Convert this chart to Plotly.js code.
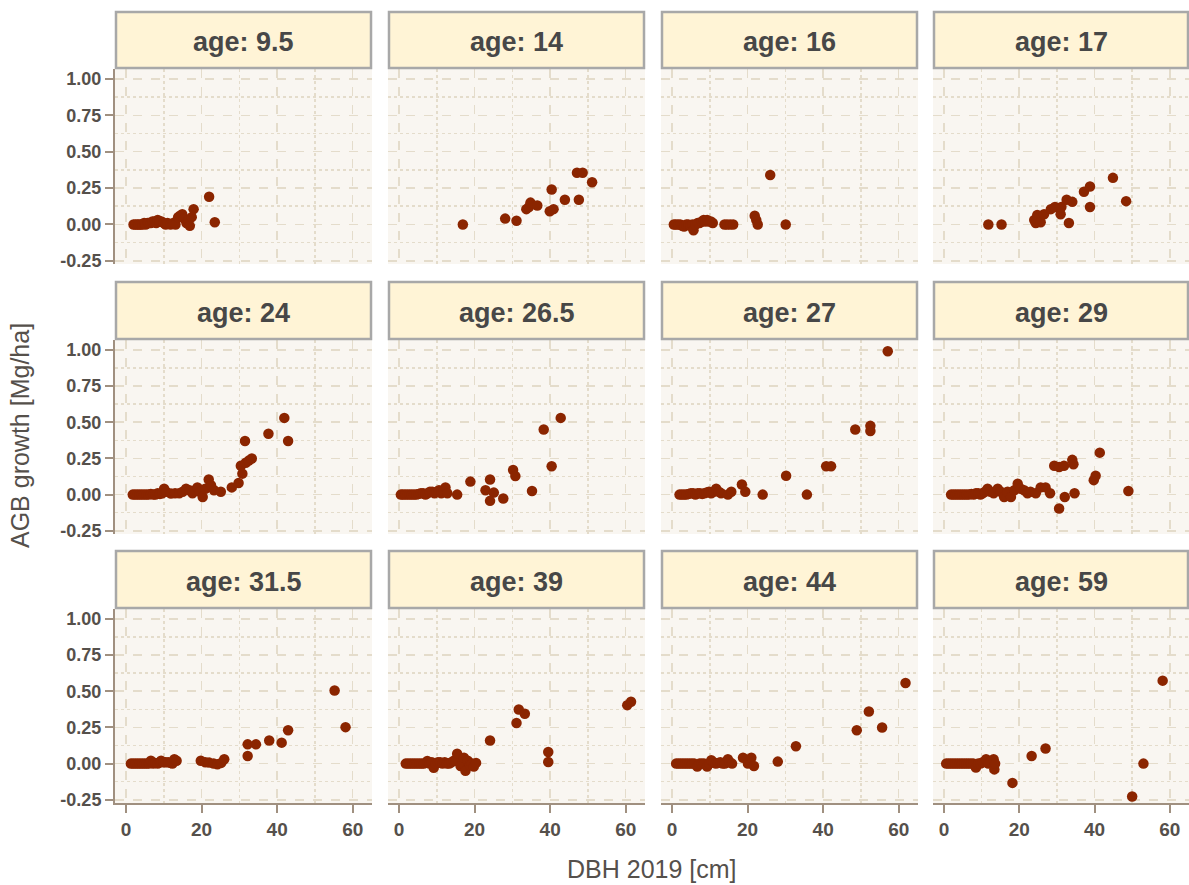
<!DOCTYPE html>
<html>
<head>
<meta charset="utf-8">
<script src="https://cdn.plot.ly/plotly-3.0.1.min.js"></script>
<style>html,body{margin:0;padding:0;background:#fff;}#chart{width:1189px;height:885px;}</style>
</head>
<body>
<div id="chart"></div>
<script>
// ---- data ----
const ages = ['9.5','14','16','17','24','26.5','27','29','31.5','39','44','59'];

const dbh_9_5 = [2.0,2.5,3.0,3.4,3.9,4.3,4.8,5.2,5.7,6.1,6.6,7.0,7.5,8.0,8.4,8.9,9.4,10.0,10.5,11.0,11.8,12.5,13.1,13.8,14.3,14.9,15.4,16.0,16.5,16.9,17.4,17.9,22.0,23.5];
const agb_9_5 = [0,0,0,0,0,0,0.01,0,0.01,0.01,0.01,0.02,0.02,0.01,0.03,0.02,0.02,0.01,0,0.01,0,0.01,0,0.05,0.06,0.07,0.04,0.01,0.03,-0.01,0.05,0.105,0.19,0.015];

const dbh_14 = [16.9,28.1,31.1,33.7,34.4,34.8,36.6,39.9,40.9,40.4,43.9,47.6,47.1,48.6,51.1];
const agb_14 = [0,0.04,0.025,0.105,0.12,0.15,0.13,0.09,0.105,0.24,0.17,0.17,0.355,0.355,0.29];

const dbh_16 = [0.5,1.0,1.6,2.2,2.7,3.2,3.8,4.3,4.9,5.4,5.7,6.2,6.8,7.3,7.9,8.4,8.8,9.3,9.8,10.3,10.8,13.9,14.6,15.4,16.2,21.9,22.3,22.7,26.0,30.1];
const agb_16 = [0,0,0,0,-0.01,-0.015,0,0,-0.01,0,-0.04,0,0.01,0.01,0.02,0.03,0.02,0.03,0.02,0.02,0.01,0,0,0,0,0.06,0.03,0,0.34,0];

const dbh_17 = [11.8,15.3,24.0,24.4,24.8,25.7,26.6,28.4,29.5,31.0,31.2,32.6,34.1,33.2,37.2,38.8,38.8,44.9,48.4];
const agb_17 = [0,0,0.03,0.01,0.065,0.015,0.07,0.105,0.12,0.07,0.12,0.17,0.155,0.01,0.225,0.26,0.12,0.32,0.16];

const dbh_24 = [1.8,2.4,3.0,3.6,4.2,4.8,5.4,6.0,6.6,7.2,7.8,8.4,9.0,9.6,10.1,10.6,11.9,13.0,14.1,15.0,15.9,16.8,17.6,18.3,18.9,19.6,20.3,21.0,21.9,22.5,23.3,25.1,28.0,29.8,30.4,30.8,31.5,31.7,32.5,33.3,37.7,41.9,42.9];
const agb_24 = [0,0,0,0,0,0,0,0,0.005,0,0,0.01,0.005,0.01,0.04,0.02,0.007,0.01,0.01,0.02,0.04,0.03,0.01,0.03,0.05,0.02,-0.016,0.04,0.105,0.065,0.03,0.02,0.05,0.08,0.2,0.145,0.37,0.22,0.235,0.25,0.42,0.53,0.37];

const dbh_26_5 = [0.5,1.0,1.6,2.2,2.8,3.4,4.0,4.6,5.2,5.8,6.4,7.0,7.6,8.2,8.8,9.4,10.0,10.6,11.2,11.8,12.3,12.8,15.4,18.9,22.9,24.1,25.1,24.1,27.6,30.2,30.8,35.2,38.3,40.4,42.8];
const agb_26_5 = [0,0,0,0,0,0,0,0,0.005,0.01,0.01,0,0.01,0.02,0.02,0.01,0.02,0.03,0.01,0.02,0.05,0.01,0,0.09,0.03,0.105,0.014,-0.043,-0.027,0.17,0.128,0.025,0.45,0.196,0.53];

const dbh_27 = [2.0,2.6,3.2,3.8,4.4,5.0,5.6,6.2,6.8,7.4,8.0,8.6,9.2,9.8,10.4,11.0,11.7,12.4,13.0,14.8,15.7,18.5,19.4,24.0,30.2,35.7,40.8,42.1,48.5,52.5,52.5,57.1];
const agb_27 = [0,0,0,0,0.005,0.01,0.01,0,0.01,0.01,0.005,0.01,0.015,0.02,0.01,0.02,0.04,0.02,0.01,0,0.02,0.07,0.02,0,0.13,0,0.196,0.196,0.45,0.475,0.44,0.99];

const dbh_29 = [1.9,2.5,3.1,3.7,4.3,4.9,5.5,6.1,6.7,7.3,7.9,8.5,9.1,9.7,10.3,10.9,11.6,12.4,13.2,14.3,15.1,16.0,16.9,17.8,18.7,19.6,20.4,21.3,22.2,23.0,24.4,25.7,27.0,28.2,29.3,30.6,31.9,34.1,34.4,30.6,32.1,34.7,39.8,40.3,41.4,49.0];
const agb_29 = [0,0,0,0,0,0,0,0,0,0.005,0,0.01,0.01,0,0.01,0.02,0.04,0.02,0.01,0.04,0.02,-0.016,0.02,-0.016,0.03,0.075,0.04,0.03,0.01,0.02,0.01,0.05,0.05,0.01,0.2,0.19,0.2,0.24,0.21,-0.096,-0.016,0.01,0.1,0.13,0.29,0.025];

const dbh_31_5 = [1.3,1.9,2.5,3.1,3.7,4.3,4.9,5.5,6.1,6.6,7.2,7.8,8.4,9.0,9.3,9.9,10.5,11.2,11.8,12.3,12.8,13.4,19.8,21.0,22.0,23.2,24.2,25.2,26.0,32.2,32.2,34.4,37.9,41.2,42.9,55.2,58.1];
const agb_31_5 = [0,0,0,0,0,0,0,0,0,0.02,0,0.005,0,0.01,0.02,0.01,0.01,0.01,0.005,0,0.03,0.02,0.02,0.01,0.007,0,-0.005,0.005,0.03,0.053,0.133,0.133,0.16,0.145,0.23,0.505,0.252];

const dbh_39 = [1.8,2.4,3.0,3.6,4.2,4.8,5.4,6.0,6.6,7.5,8.1,8.7,9.2,9.7,10.3,10.9,11.5,12.1,12.7,13.3,13.9,14.5,15.0,15.4,16.3,16.8,17.2,17.6,18.2,18.8,19.3,19.8,20.4,24.1,31.1,31.7,33.3,39.5,39.5,60.4,61.4];
const agb_39 = [0,0,0,0,0,0,0,0,0,0.018,0,0.01,-0.028,0,0.01,0.01,0,0.01,0,0,0.01,0.02,0.02,0.069,-0.016,0,0.04,-0.05,0.02,-0.01,0,-0.02,0.005,0.16,0.28,0.374,0.344,0.08,0.011,0.404,0.427];

const dbh_44 = [1.1,1.7,2.3,2.9,3.5,4.1,4.7,5.3,5.9,6.7,7.3,7.9,8.5,9.3,9.9,10.4,11.0,11.6,12.2,12.8,13.4,14.0,14.8,15.3,15.9,18.8,20.1,21.0,21.7,28.0,32.8,48.9,52.1,55.6,61.8];
const agb_44 = [0,0,0,0,0,0,0,0,0,-0.02,0,0,0,-0.02,0,0.023,0.01,0,0.005,0.01,0,0,0.03,0.01,0,0.04,0,0.04,-0.016,0.014,0.12,0.23,0.36,0.25,0.557];

const dbh_59 = [0.6,1.2,1.8,2.4,3.0,3.6,4.2,4.8,5.4,6.0,6.6,7.2,7.8,8.5,9.1,9.7,10.3,11.2,11.8,12.4,13.2,13.4,13.6,18.2,23.3,27.0,50.0,53.0,58.1];
const agb_59 = [0,0,0,0,0,0,0,0,0,0,0,0,0,-0.027,0,0,0.01,0.03,0,0.01,0.03,-0.04,0,-0.133,0.053,0.105,-0.227,0,0.573];

const xTickVals = [0,20,40,60];
const yTickVals = [-0.25,0,0.25,0.5,0.75,1.0];
const yTickText = ['-0.25','0.00','0.25','0.50','0.75','1.00'];
const xTitle = 'DBH 2019 [cm]';
const yTitle = 'AGB growth [Mg/ha]';

// ---- layout helpers ----
const dbhSets = [dbh_9_5,dbh_14,dbh_16,dbh_17,dbh_24,dbh_26_5,dbh_27,dbh_29,dbh_31_5,dbh_39,dbh_44,dbh_59];
const agbSets = [agb_9_5,agb_14,agb_16,agb_17,agb_24,agb_26_5,agb_27,agb_29,agb_31_5,agb_39,agb_44,agb_59];

const W = 1189, H = 885;
const colsPx = [[115,372],[388,645],[661,918],[933,1189]];
const rowsPx = [[69,264],[340,534],[609,803]];
const stripPx = [[12,68],[282,339],[551,608]];
const px = v => v / W;
const py = v => 1 - v / H;

const textCol = '#55504b';
const gridCol = '#e4dccb';
const axisLineCol = '#a09080';
const font = 'Liberation Sans, Arial, sans-serif';

const data = [];
const layout = {
  width: W, height: H,
  margin: {l:0, r:0, t:0, b:0},
  paper_bgcolor: '#ffffff',
  plot_bgcolor: '#f9f6f1',
  showlegend: false,
  shapes: [],
  annotations: []
};

ages.forEach((age, i) => {
  const r = Math.floor(i / 4), c = i % 4;
  const n = i + 1;
  const xa = 'xaxis' + (n === 1 ? '' : n);
  const ya = 'yaxis' + (n === 1 ? '' : n);
  const xref = 'x' + (n === 1 ? '' : n);
  const yref = 'y' + (n === 1 ? '' : n);

  data.push({
    type: 'scatter', mode: 'markers',
    x: dbhSets[i], y: agbSets[i],
    xaxis: xref, yaxis: yref,
    marker: {color: '#8b2500', size: 10.5, line: {width: 0}},
    hoverinfo: 'x+y'
  });

  const bottom = (r === 2), left = (c === 0);
  layout[xa] = {
    domain: [px(colsPx[c][0]), px(colsPx[c][1])],
    anchor: yref,
    range: [-2.9, 65.1],
    tickvals: xTickVals,
    showticklabels: bottom,
    ticks: bottom ? 'outside' : '',
    ticklen: 8, tickwidth: 2, tickcolor: axisLineCol,
    showline: bottom, linecolor: axisLineCol, linewidth: 2,
    showgrid: true, gridcolor: gridCol, gridwidth: 1.5, griddash: 'dash',
    minor: {tickvals: [10,30,50], showgrid: true, gridcolor: gridCol, gridwidth: 1.5, griddash: 'dot', ticks: ''},
    zeroline: false,
    tickfont: {family: font, size: 19, color: textCol, weight: 'bold'},
    fixedrange: true
  };
  layout[ya] = {
    domain: [py(rowsPx[r][1]), py(rowsPx[r][0])],
    anchor: xref,
    range: [-0.272, 1.068],
    tickvals: yTickVals,
    ticktext: yTickText,
    showticklabels: left,
    ticks: left ? 'outside' : '',
    ticklen: 8, tickwidth: 2, tickcolor: axisLineCol,
    showline: left, linecolor: axisLineCol, linewidth: 2,
    showgrid: true, gridcolor: gridCol, gridwidth: 1.5, griddash: 'dash',
    minor: {tickvals: [-0.125,0.125,0.375,0.625,0.875], showgrid: true, gridcolor: gridCol, gridwidth: 1.5, griddash: 'dot', ticks: ''},
    zeroline: false,
    tickfont: {family: font, size: 18, color: textCol, weight: 'bold'},
    fixedrange: true
  };

  // strip
  layout.shapes.push({
    type: 'rect', xref: 'paper', yref: 'paper',
    x0: px(colsPx[c][0] + 1), x1: px(colsPx[c][1] - 1),
    y0: py(stripPx[r][1]), y1: py(stripPx[r][0]),
    fillcolor: '#fff4d6', line: {color: '#a8a8a8', width: 2.5},
    layer: 'above'
  });
  layout.annotations.push({
    xref: 'paper', yref: 'paper',
    x: px((colsPx[c][0] + colsPx[c][1]) / 2),
    y: py((stripPx[r][0] + stripPx[r][1]) / 2 + 2),
    xanchor: 'center', yanchor: 'middle',
    text: 'age: ' + age, showarrow: false,
    font: {family: font, size: 27, color: '#474747', weight: 'bold'}
  });
});

layout.annotations.push({
  xref: 'paper', yref: 'paper',
  x: px((colsPx[0][0] + colsPx[3][1]) / 2), y: py(869),
  xanchor: 'center', yanchor: 'middle',
  text: xTitle, showarrow: false,
  font: {family: font, size: 25, color: textCol}
});
layout.annotations.push({
  xref: 'paper', yref: 'paper',
  x: px(20), y: py((rowsPx[0][0] + rowsPx[2][1]) / 2),
  xanchor: 'center', yanchor: 'middle',
  text: yTitle, showarrow: false, textangle: -90,
  font: {family: font, size: 25, color: textCol}
});

Plotly.newPlot('chart', data, layout, {displayModeBar: false, staticPlot: true});
</script>
</body>
</html>
